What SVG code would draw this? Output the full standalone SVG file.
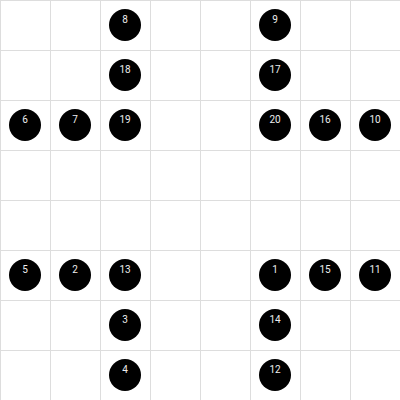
<svg xmlns="http://www.w3.org/2000/svg" width="400" height="400" viewBox="0 0 400 400">
<style>
.g{stroke:#dddddd;stroke-width:1;fill:none}
.n circle{fill:#000}
.n text{fill:#eeeeee;font-family:Roboto,"Liberation Sans",sans-serif;font-size:10px;text-anchor:middle}
</style>
<rect width="400" height="400" fill="#fff"/>
<g id="grid" class="g">
<path d="M0.5 0V400M50.5 0V400M100.5 0V400M150.5 0V400M200.5 0V400M250.5 0V400M300.5 0V400M350.5 0V400M0 0.5H400M0 50.5H400M0 100.5H400M0 150.5H400M0 200.5H400M0 250.5H400M0 300.5H400M0 350.5H400"/>
</g>
<g id="connectors"></g>
<g id="n8" class="n"><circle cx="125" cy="25" r="16"/><text x="125" y="23">8</text></g>
<g id="n9" class="n"><circle cx="275" cy="25" r="16"/><text x="275" y="23">9</text></g>
<g id="n18" class="n"><circle cx="125" cy="75" r="16"/><text x="125" y="73">18</text></g>
<g id="n17" class="n"><circle cx="275" cy="75" r="16"/><text x="275" y="73">17</text></g>
<g id="n6" class="n"><circle cx="25" cy="125" r="16"/><text x="25" y="123">6</text></g>
<g id="n7" class="n"><circle cx="75" cy="125" r="16"/><text x="75" y="123">7</text></g>
<g id="n19" class="n"><circle cx="125" cy="125" r="16"/><text x="125" y="123">19</text></g>
<g id="n20" class="n"><circle cx="275" cy="125" r="16"/><text x="275" y="123">20</text></g>
<g id="n16" class="n"><circle cx="325" cy="125" r="16"/><text x="325" y="123">16</text></g>
<g id="n10" class="n"><circle cx="375" cy="125" r="16"/><text x="375" y="123">10</text></g>
<g id="n5" class="n"><circle cx="25" cy="275" r="16"/><text x="25" y="273">5</text></g>
<g id="n2" class="n"><circle cx="75" cy="275" r="16"/><text x="75" y="273">2</text></g>
<g id="n13" class="n"><circle cx="125" cy="275" r="16"/><text x="125" y="273">13</text></g>
<g id="n1" class="n"><circle cx="275" cy="275" r="16"/><text x="275" y="273">1</text></g>
<g id="n15" class="n"><circle cx="325" cy="275" r="16"/><text x="325" y="273">15</text></g>
<g id="n11" class="n"><circle cx="375" cy="275" r="16"/><text x="375" y="273">11</text></g>
<g id="n3" class="n"><circle cx="125" cy="325" r="16"/><text x="125" y="323">3</text></g>
<g id="n14" class="n"><circle cx="275" cy="325" r="16"/><text x="275" y="323">14</text></g>
<g id="n4" class="n"><circle cx="125" cy="375" r="16"/><text x="125" y="373">4</text></g>
<g id="n12" class="n"><circle cx="275" cy="375" r="16"/><text x="275" y="373">12</text></g>
</svg>
